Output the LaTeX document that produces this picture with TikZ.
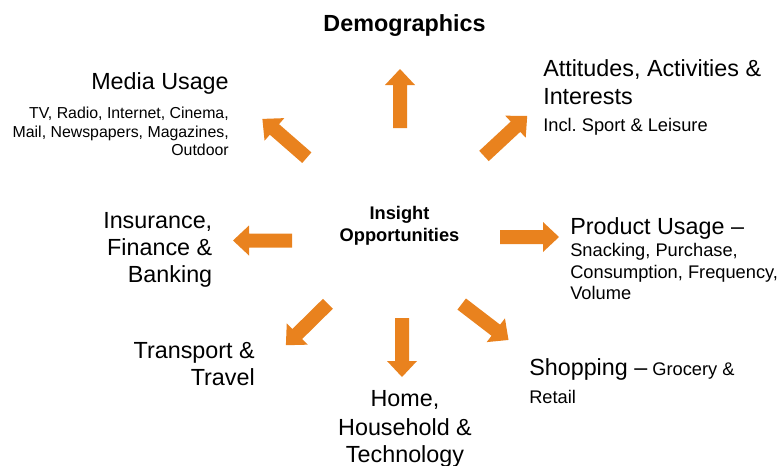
\documentclass[tikz,border=0pt]{standalone}
\usepackage{fontspec}
\setmainfont{Liberation Sans}
\frenchspacing
\definecolor{arrowfill}{RGB}{233,130,30}
\tikzset{
  blockarrow/.pic={
    % block arrow pointing along +x, centred on the pic origin
    \fill[arrowfill] (-29.5,-7) -- (13.5,-7) -- (13.5,-15) -- (29.5,0)
      -- (13.5,15) -- (13.5,7) -- (-29.5,7) -- cycle;
  },
  head/.style={inner sep=0pt, font=\fontsize{17.5}{21}\selectfont},
  headb/.style={inner sep=0pt, font=\fontsize{17.5}{21}\selectfont\bfseries},
  mid/.style={inner sep=0pt, font=\fontsize{13.7}{16}\selectfont},
  midb/.style={inner sep=0pt, font=\fontsize{13.7}{16}\selectfont\bfseries},
  small/.style={inner sep=0pt, font=\fontsize{11.9}{14}\selectfont},
}
\begin{document}
\begin{tikzpicture}[x=0.75pt, y=-0.75pt]
\useasboundingbox (0,0) rectangle (783,465);

% centre label
\node[midb, anchor=base] (ins1) at (399.5,219) {Insight};
\node[midb, anchor=base] (ins2) at (399.5,241) {Opportunities};

% arrows radiating from the centre
\pic[rotate=90]     (aup) at (400,98.5)   {blockarrow};
\pic[rotate=42.9]   (aur) at (505.6,135.9) {blockarrow};
\pic[rotate=0]      (ari) at (529.5,237)  {blockarrow};
\pic[rotate=-37.5]  (alr) at (485.1,322)  {blockarrow};
\pic[rotate=-90]    (adn) at (402,347.5)  {blockarrow};
\pic[rotate=224.6]  (all) at (306.9,324.5) {blockarrow};
\pic[rotate=180]    (ale) at (262.5,240.5) {blockarrow};
\pic[rotate=138.9]  (aul) at (284.6,138.3) {blockarrow};

% top
\node[headb, anchor=base] (demo) at (404.5,31.5) {Demographics};

% upper left
\node[head, anchor=base east] (med1) at (229,89.5) {Media Usage};
\node[small, anchor=base east] (med2) at (229,118.5) {TV, Radio, Internet, Cinema,};
\node[small, anchor=base east] (med3) at (229,137) {Mail, Newspapers, Magazines,};
\node[small, anchor=base east] (med4) at (229,155.5) {Outdoor};

% upper right
\node[head, anchor=base west] (att1) at (543,76.5) {Attitudes, Activities \&};
\node[head, anchor=base west] (att2) at (543,104) {Interests};
\node[mid, anchor=base west] (att3) at (543,131) {Incl. Sport \& Leisure};

% right
\node[head, anchor=base west] (pro1) at (570,234) {Product Usage –};
\node[mid, anchor=base west] (pro2) at (570,256.5) {Snacking, Purchase,};
\node[mid, anchor=base west] (pro3) at (570,278) {Consumption, Frequency,};
\node[mid, anchor=base west] (pro4) at (570,299.5) {Volume};

% lower right
\node[head, anchor=base west] (sho1) at (529,375) {Shopping –{\fontsize{13.7}{16}\selectfont\ Grocery \&}};
\node[mid, anchor=base west] (sho2) at (529,403) {Retail};

% bottom
\node[head, anchor=base] (hom1) at (405,406.5) {Home,};
\node[head, anchor=base] (hom2) at (405,435) {Household \&};
\node[head, anchor=base] (hom3) at (405,462) {Technology};

% lower left
\node[head, anchor=base east] (tra1) at (255,358.5) {Transport \&};
\node[head, anchor=base east] (tra2) at (255,385.5) {Travel};

% left
\node[head, anchor=base east] (fin1) at (212.5,228) {Insurance,};
\node[head, anchor=base east] (fin2) at (212.5,255) {Finance \&};
\node[head, anchor=base east] (fin3) at (212.5,282) {Banking};
\end{tikzpicture}
\end{document}
